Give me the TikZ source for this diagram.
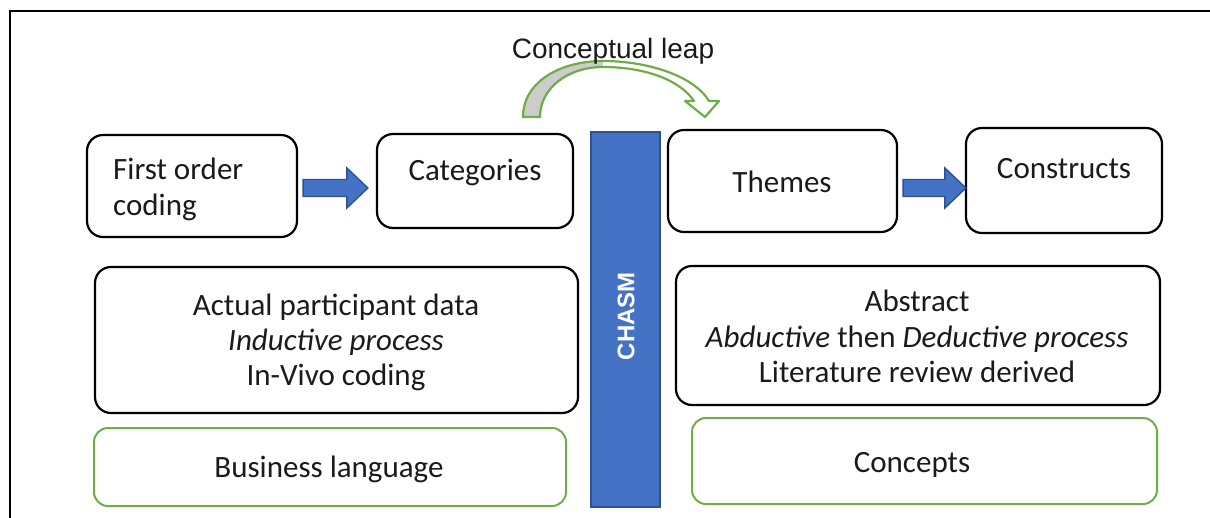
\documentclass[tikz,border=0pt]{standalone}
\usepackage{fontspec}
\setmainfont{Carlito}
\newfontfamily\arialfont{Liberation Sans}
\usetikzlibrary{calc}
\definecolor{chasmblue}{HTML}{4472C4}
\definecolor{chasmedge}{HTML}{2F528F}
\definecolor{leafgreen}{HTML}{70AD47}
\definecolor{inkgray}{HTML}{1A1A1A}
\definecolor{shadegray}{HTML}{CCCCCC}

% block arrow from tail coordinate #1 to tip coordinate #2 (horizontal)
\newcommand{\blockarrowpath}[2]{%
  \draw[blockarrow] ($(#1)+(0,-8.5)$) -- ($(#2)+(-21,-8.5)$) -- ($(#2)+(-21,-20)$)
    -- (#2) -- ($(#2)+(-21,20)$) -- ($(#2)+(-21,8.5)$) -- ($(#1)+(0,8.5)$) -- cycle;}

\begin{document}
\begin{tikzpicture}[x=1pt,y=-1pt,
  box/.style={draw=black, line width=2.2pt, rounded corners=16pt, inner sep=0pt},
  greenbox/.style={draw=leafgreen, line width=2pt, rounded corners=14pt, inner sep=0pt},
  txt/.style={font=\fontsize{31}{36}\selectfont, text=inkgray, inner sep=0pt, anchor=base},
  blockarrow/.style={fill=chasmblue, draw=chasmedge, line width=1.4pt, line join=miter},
]
\useasboundingbox (0,0) rectangle (1210,517);
\clip (0,0) rectangle (1210,517);

% outer frame
\draw[line width=1.2pt] (10,540) -- (10,11) -- (1230,11);

% upper row of boxes
\node[box, minimum width=210pt, minimum height=102pt] (first) at (192,186) {};
\node[box, minimum width=196pt, minimum height=94pt] (cat) at (475,181) {};
\node[box, minimum width=229pt, minimum height=102pt] (themes) at (782.5,181) {};
\node[box, minimum width=196pt, minimum height=105pt] (constr) at (1064,180.5) {};

\node[txt, anchor=base west] (firstA) at (113,179) {First order};
\node[txt, anchor=base west] (firstB) at (113,215) {coding};
\node[txt] (catT) at (475,180) {Categories};
\node[txt] (themesT) at (782,192) {Themes};
\node[txt] (constrT) at (1064,178) {Constructs};

% block arrows between the boxes
\coordinate (arrAtail) at ($(first.east |- 0,188)+(5,0)$);
\coordinate (arrAtip) at ($(cat.west |- 0,188)+(-8,0)$);
\blockarrowpath{arrAtail}{arrAtip}
\coordinate (arrBtail) at ($(themes.east |- 0,188)+(5,0)$);
\coordinate (arrBtip) at ($(constr.west |- 0,188)+(1,0)$);
\blockarrowpath{arrBtail}{arrBtip}

% description boxes
\node[box, minimum width=483pt, minimum height=146pt] (leftdesc) at (336.5,340) {};
\node[txt] (ld1) at (336,315) {Actual participant data};
\node[txt] (ld2) at (336,350) {\itshape Inductive process};
\node[txt] (ld3) at (336,385) {In-Vivo coding};

\node[box, minimum width=484pt, minimum height=139pt] (rightdesc) at (918,335.5) {};
\node[txt] (rd1) at (917,311) {Abstract};
\node[txt] (rd2) at (917,347) {\itshape Abductive\upshape{} then \itshape Deductive process};
\node[txt] (rd3) at (917,382) {Literature review derived};

% language boxes
\node[greenbox, minimum width=472pt, minimum height=78pt] (biz) at (330,467) {};
\node[txt] (bizT) at (329,477) {Business language};
\node[greenbox, minimum width=465pt, minimum height=86pt] (concepts) at (924.5,461) {};
\node[txt] (conceptsT) at (912,472) {Concepts};

% the chasm bar
\node[draw=chasmedge, fill=chasmblue, line width=1.6pt, minimum width=69pt,
      minimum height=375pt, inner sep=0pt] (chasm) at (625.5,319.5) {};
\node[rotate=90, text=white, inner sep=0pt,
      font=\arialfont\bfseries\fontsize{24}{28}\selectfont] (chasmT) at (626,316) {CHASM};

% curved leap arrow over the chasm
\fill[shadegray] (523,117) .. controls (523,82) and (560,61) .. (603,61)
  -- (603,67) .. controls (568,67) and (540,88) .. (540,117) -- cycle;
\draw[leafgreen, line width=2.2pt, line join=round]
  (523,117) .. controls (523,82) and (560,61) .. (603,61)
  .. controls (648,61) and (694,76) .. (709,101) -- (719,101) -- (705,117)
  -- (685,101) -- (694,101) .. controls (680,80) and (645,67) .. (603,67)
  .. controls (568,67) and (540,88) .. (540,117) -- cycle;
\node[inner sep=0pt, anchor=base, text=inkgray,
      font=\arialfont\fontsize{28}{32}\selectfont] (leap) at (613,58) {Conceptual leap};
\end{tikzpicture}
\end{document}
